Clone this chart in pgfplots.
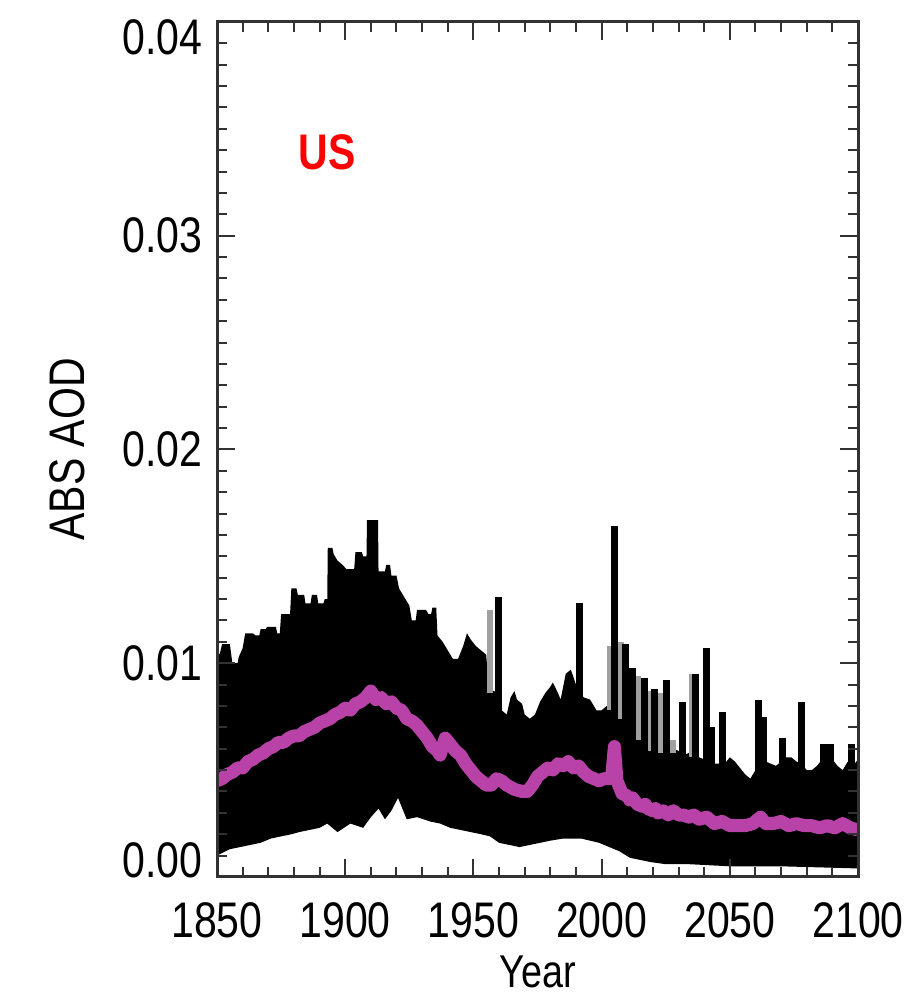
\documentclass[border=0pt]{standalone}
\usepackage{fontspec}
\setmainfont{Liberation Sans}[FakeStretch=0.82]
\usepackage{pgfplots}
\usepackage{pgfplotstable}
\pgfplotsset{compat=1.18}
\usepgfplotslibrary{fillbetween}
\definecolor{meanmag}{RGB}{184,66,168}
\definecolor{axgray}{RGB}{50,50,50}
\definecolor{spikegray}{RGB}{160,160,160}
\newcommand\lbl{\fontsize{25pt}{30pt}\selectfont}
\newcommand\shiftlbl[2]{\smash{\raisebox{#1}{#2}}\vphantom{0}}

\pgfplotstableread{
year val
1850 0.0106
1851 0.0104
1852 0.0109
1855 0.0109
1856 0.0100
1858 0.0100
1858.5 0.0103
1860 0.0107
1861 0.0114
1864 0.0114
1865 0.0113
1866.5 0.0113
1867 0.0116
1869 0.0116
1869.5 0.0117
1873 0.0117
1873.5 0.0114
1874.5 0.0114
1875 0.0123
1878.5 0.0123
1879 0.0135
1881 0.0135
1881.5 0.0132
1884 0.0132
1884.5 0.0128
1886.5 0.0128
1887 0.0132
1889 0.0132
1889.5 0.0128
1891.5 0.0128
1892 0.0130
1893 0.0130
1893.2 0.0154
1895 0.0154
1895.5 0.0151
1897 0.0148
1899 0.0146
1900.5 0.0144
1903.5 0.0144
1904 0.0152
1906.5 0.0152
1907 0.0150
1908.3 0.0150
1908.5 0.0167
1912.8 0.0167
1913 0.0143
1915.5 0.0143
1916 0.0146
1917.5 0.0146
1918 0.0141
1920 0.0141
1921 0.0135
1923 0.0131
1925 0.0127
1926 0.0120
1927.5 0.0120
1928 0.0125
1931.5 0.0125
1932.5 0.0123
1933.5 0.0123
1934 0.0126
1935.5 0.0126
1936 0.0113
1938 0.0110
1940 0.0106
1942 0.0102
1944 0.0102
1946 0.0108
1947.5 0.0114
1949 0.0111
1951 0.0108
1953 0.0106
1955 0.0104
1956 0.0088
1958 0.0087
1960 0.0086
1961 0.0078
1963 0.0076
1964.5 0.0084
1966 0.0087
1967 0.0083
1969 0.0081
1970 0.0076
1972 0.0074
1974 0.0076
1976 0.0082
1978 0.0086
1980 0.0089
1981 0.0091
1983 0.0086
1984 0.0083
1986 0.0095
1988 0.0097
1990 0.0090
1993 0.0084
1995.5 0.0083
1998 0.0078
2000 0.0078
2002 0.0080
2004 0.0079
2006 0.0077
2008 0.0075
2010 0.0071
2012 0.0069
2014 0.0066
2016 0.0064
2018 0.0062
2020 0.0060
2022 0.0060
2024 0.0059
2026 0.0061
2028 0.0060
2030 0.0059
2032 0.0057
2034 0.0058
2036 0.0059
2038 0.0056
2040 0.0055
2042 0.0055
2044 0.0053
2046 0.0053
2048 0.0053
2050 0.0056
2052 0.0054
2054 0.0051
2056 0.0048
2058 0.0046
2060 0.0050
2062 0.0053
2064 0.0054
2066 0.0053
2068 0.0052
2070 0.0054
2072 0.0056
2074 0.0056
2076 0.0054
2078 0.0053
2080 0.0050
2082 0.0050
2084 0.0052
2086 0.0055
2088 0.0056
2090 0.0055
2092 0.0052
2094 0.0050
2096 0.0054
2098 0.0052
2100 0.0055
}\uppertab

\pgfplotstableread{
year val
1850 0.0010
1855 0.0013
1859 0.0014
1863 0.0015
1867 0.0016
1871 0.0018
1875 0.0019
1879 0.0020
1882 0.0021
1886 0.0022
1890 0.0023
1893 0.0025
1897 0.0021
1902 0.0025
1907 0.0023
1910 0.0028
1913 0.0032
1915.5 0.0027
1918 0.0031
1920.6 0.0037
1924 0.0027
1928 0.0028
1933 0.0026
1937 0.0025
1941 0.0023
1945 0.0022
1949 0.0021
1953 0.0020
1956.5 0.0019
1960 0.0016
1964 0.0015
1968 0.0014
1972 0.0015
1976 0.0016
1980 0.0017
1985 0.0018
1988 0.0018
1992 0.0018
1995.5 0.0017
1999 0.0016
2003 0.0014
2007 0.0012
2011 0.0009
2015 0.0008
2019 0.0007
2025 0.0006
2034 0.0006
2050 0.0005
2070 0.0005
2100 0.0004
}\lowertab

\pgfplotstableread{
year val
1850 0.0045
1852 0.0046
1854 0.0048
1856 0.0049
1858 0.0051
1860 0.0051
1862 0.0054
1864 0.0055
1866 0.0057
1868 0.0058
1870 0.0060
1872 0.0061
1874 0.0063
1876 0.0063
1878 0.0065
1880 0.0066
1882 0.0066
1884 0.0068
1886 0.0069
1888 0.0070
1890 0.0072
1892 0.0073
1894 0.0074
1896 0.0076
1898 0.0077
1900 0.0079
1902 0.0078
1904 0.0081
1906 0.0082
1908 0.0084
1910 0.0087
1912 0.0083
1914 0.0084
1916 0.0081
1918 0.0082
1920 0.0079
1922 0.0078
1924 0.0074
1926 0.0073
1928 0.0071
1930 0.0068
1932 0.0065
1934 0.0061
1936 0.0059
1937 0.0057
1939 0.0065
1941 0.0062
1943 0.0059
1945 0.0057
1947 0.0053
1949 0.0050
1951 0.0047
1953 0.0045
1955 0.0043
1957 0.0043
1959 0.0046
1961 0.0045
1963 0.0043
1966 0.0041
1969 0.0040
1971 0.0040
1973 0.0043
1975 0.0047
1977 0.0049
1979 0.0051
1981 0.0050
1983 0.0053
1985 0.0052
1987 0.0054
1989 0.0051
1991 0.0052
1993 0.0049
1995 0.0047
1997 0.0046
1999 0.0045
2001 0.0046
2003 0.0046
2004 0.0048
2005 0.0061
2006 0.0045
2008 0.0039
2010 0.0038
2011 0.0036
2012 0.0037
2014 0.0034
2016 0.0033
2017 0.0034
2018 0.0032
2020 0.0031
2021 0.0032
2022 0.0030
2024 0.0031
2026 0.0029
2028 0.0031
2030 0.0029
2032 0.0029
2034 0.0028
2036 0.0029
2038 0.0027
2041 0.0028
2044 0.0025
2047 0.0026
2050 0.0024
2053 0.0024
2056 0.0024
2059 0.0025
2062 0.0028
2064 0.0025
2067 0.0025
2070 0.0026
2073 0.0024
2076 0.0025
2079 0.0024
2082 0.0024
2085 0.0023
2088 0.0024
2091 0.0023
2094 0.0025
2097 0.0023
2100 0.0022
}\meantab

\pgfplotstableread{
year val
1956.4 0.0086
1956.4 0.0125
nan nan
2003.2 0.0078
2003.2 0.0108
nan nan
2007.4 0.0074
2007.4 0.0110
nan nan
2014.0 0.0064
2014.0 0.0094
nan nan
2018.5 0.0059
2018.5 0.0087
nan nan
2022.6 0.0058
2022.6 0.0086
nan nan
2028.0 0.0058
2028.0 0.0064
nan nan
2035.3 0.0056
2035.3 0.0095
}\grayspikes

\pgfplotstableread{
year val
1959.9 0.0045
1959.9 0.0131
nan nan
1991.2 0.0045
1991.2 0.0128
nan nan
2005.1 0.0045
2005.1 0.0164
nan nan
2009.2 0.0045
2009.2 0.0109
nan nan
2012.0 0.0045
2012.0 0.0098
nan nan
2016.7 0.0045
2016.7 0.0093
nan nan
2020.6 0.0045
2020.6 0.0088
nan nan
2025.3 0.0045
2025.3 0.0092
nan nan
2031.5 0.0045
2031.5 0.0082
nan nan
2036.6 0.0045
2036.6 0.0095
nan nan
2040.9 0.0045
2040.9 0.0107
nan nan
2043.0 0.0045
2043.0 0.0070
nan nan
2047.2 0.0045
2047.2 0.0077
nan nan
2061.2 0.0045
2061.2 0.0083
nan nan
2063.3 0.0045
2063.3 0.0075
nan nan
2070.7 0.0045
2070.7 0.0065
nan nan
2078.0 0.0045
2078.0 0.0082
nan nan
2086.6 0.0045
2086.6 0.0062
nan nan
2089.1 0.0045
2089.1 0.0062
nan nan
2097.3 0.0045
2097.3 0.0062
}\blackspikes

\begin{document}
\begin{tikzpicture}
\begin{axis}[
  scale only axis, width=320.5pt, height=427.5pt,
  xmin=1850, xmax=2100, ymin=0, ymax=0.04,
  xtick={1850,1900,1950,2000,2050,2100}, minor x tick num=4,
  ytick={0,0.01,0.02,0.03,0.04}, minor y tick num=9,
  yticklabels={\shiftlbl{8.5pt}{0.00},0.01,0.02,0.03,\shiftlbl{-7.5pt}{0.04}},
  scaled y ticks=false,
  major tick length=9pt, minor tick length=5pt,
  axis line style={axgray, line width=1.5pt},
  every tick/.style={axgray, line width=1pt},
  axis on top,
  /pgf/number format/assume math mode=true,
  xticklabel style={/pgf/number format/1000 sep={}, font=\lbl, anchor=north, inner sep=0pt, yshift=-12.5pt},
  yticklabel style={font=\lbl, anchor=east, inner sep=0pt, xshift=-7pt},
  xlabel={Year}, ylabel={ABS AOD},
  xlabel style={font=\fontsize{23pt}{28pt}\selectfont, at={(axis description cs:0.5,0)}, anchor=north, inner sep=0pt, yshift=-39pt},
  ylabel style={font=\lbl, at={(axis description cs:-0.206,0.5)}, anchor=south, inner sep=0pt},
  unbounded coords=jump,
]
\addplot[draw=none, name path=U] table[x=year, y=val] {\uppertab};
\addplot[draw=none, name path=L] table[x=year, y=val] {\lowertab};
\addplot[black] fill between[of=U and L];
\addplot[spikegray, line width=3pt] table[x=year, y=val] {\grayspikes};
\addplot[black, line width=3.5pt] table[x=year, y=val] {\blackspikes};
\addplot[meanmag, line width=6.5pt, line join=round] table[x=year, y=val] {\meantab};
\node[font=\lbl\bfseries, text=red, inner sep=0pt] at (axis cs:1892.9,0.0339) {US};
\end{axis}
\path (current axis.south west) ++(-108.5pt,-61pt) rectangle ++(456.5pt,499.5pt);
\end{tikzpicture}
\end{document}
